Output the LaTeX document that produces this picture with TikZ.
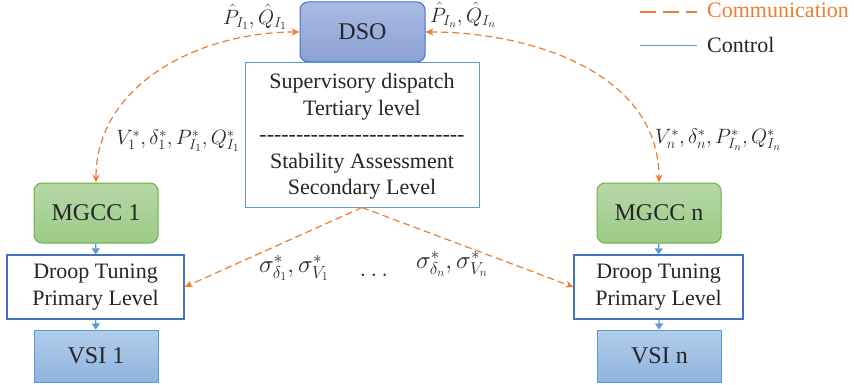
\documentclass[tikz,border=0pt]{standalone}
\usepackage{fontspec}
\setmainfont{LiberationSerif}[Extension=.ttf, UprightFont=*-Regular, BoldFont=*-Bold, ItalicFont=*-Italic, BoldItalicFont=*-BoldItalic]
\usetikzlibrary{arrows.meta}
\definecolor{orng}{HTML}{ED7D31}
\definecolor{lblue}{HTML}{5B9BD5}
\definecolor{dblue}{HTML}{4472C4}
\definecolor{ggreen}{HTML}{70AD47}
\definecolor{txt}{HTML}{262626}
\newcommand\hyph{-\kern0pt}
\begin{document}
\begin{tikzpicture}[x=1pt,y=-1pt,
  every node/.style={text=txt, inner sep=0pt},
  bigfont/.style={font=\fontsize{24}{28}\selectfont},
  midfont/.style={font=\fontsize{22}{26.5}\selectfont},
  mathlbl/.style={font=\fontsize{22}{26}\selectfont},
  dsobox/.style={bigfont, draw=dblue, line width=1pt, rounded corners=8pt,
    top color={rgb,255:red,170;green,186;blue,227}, bottom color={rgb,255:red,140;green,162;blue,213},
    minimum width=125pt, minimum height=60pt},
  mgccbox/.style={bigfont, draw=ggreen, line width=1pt, rounded corners=8pt,
    top color={rgb,255:red,182;green,216;blue,168}, bottom color={rgb,255:red,156;green,203;blue,134},
    minimum width=124pt, minimum height=60pt},
  vsibox/.style={bigfont, draw=lblue, line width=1pt,
    top color={rgb,255:red,178;green,205;blue,235}, bottom color={rgb,255:red,143;green,180;blue,223},
    minimum width=124pt, minimum height=52pt},
  droopbox/.style={midfont, draw=dblue, line width=1.2pt, fill=white, align=center,
    minimum height=64pt},
  centralbox/.style={midfont, draw=lblue, line width=1pt, fill=white, align=center,
    minimum width=234pt, minimum height=144pt},
  comm/.style={draw=orng, line width=1.2pt, dash pattern=on 7pt off 4pt},
  ctrl/.style={draw=lblue, line width=1.2pt, arrows={-Triangle[length=6pt,width=8pt]}}
]
\useasboundingbox (0,0) rectangle (854,385);

% nodes
\node[dsobox] (dso) at (362.5,32) {DSO};
\node[centralbox] (central) at (362,135) {\rule{0pt}{18pt}Supervisory dispatch\\Tertiary level\\\hyph\hyph\hyph\hyph\hyph\hyph\hyph\hyph\hyph\hyph\hyph\hyph\hyph\hyph\hyph\hyph\hyph\hyph\hyph\hyph\hyph\hyph\hyph\hyph\hyph\hyph\hyph\hyph\\Stability Assessment\\Secondary Level};
\node[mgccbox] (mgcc1) at (96,213) {MGCC 1};
\node[droopbox, minimum width=177pt] (droop1) at (95.5,287) {Droop Tuning\\Primary Level};
\node[vsibox] (vsi1) at (96,356) {VSI 1};
\node[mgccbox] (mgccn) at (659,213) {MGCC n};
\node[droopbox, minimum width=169pt] (droopn) at (658.5,287) {Droop Tuning\\Primary Level};
\node[vsibox] (vsin) at (659.5,356) {VSI n};

% control arrows
\draw[ctrl] (mgcc1) -- (droop1);
\draw[ctrl] (droop1) -- (vsi1);
\draw[ctrl] (mgccn) -- (droopn);
\draw[ctrl] (droopn) -- (vsin);

% communication arrows
\draw[comm, arrows={Stealth[length=8pt,width=7pt]-Stealth[length=8pt,width=7pt]}] (dso.west) to[out=180,in=90] (mgcc1.north);
\draw[comm, arrows={Stealth[length=8pt,width=7pt]-Stealth[length=8pt,width=7pt]}] (dso.east) to[out=0,in=90] (mgccn.north);
\draw[comm, arrows={-Stealth[length=8pt,width=7pt]}] (central.south) -- (droop1.east);
\draw[comm, arrows={-Stealth[length=8pt,width=7pt]}] (central.south) -- (droopn.west);

% labels
\node[mathlbl] (l1) at (255,17) {$\hat{P}_{I_1},\hat{Q}_{I_1}$};
\node[mathlbl] (l2) at (178,141) {$V_1^*,\delta_1^*,P_{I_1}^*,Q_{I_1}^*$};
\node[mathlbl] (l3) at (463,15) {$\hat{P}_{I_n},\hat{Q}_{I_n}$};
\node[mathlbl] (l4) at (718,140) {$V_n^*,\delta_n^*,P_{I_n}^*,Q_{I_n}^*$};
\node[mathlbl, font=\fontsize{24}{28}\selectfont] (l5) at (294,268) {$\sigma_{\delta_1}^*,\sigma_{V_1}^*$};
\node[mathlbl, font=\fontsize{24}{28}\selectfont] (l6) at (374,275) {$\dots$};
\node[mathlbl, font=\fontsize{24}{28}\selectfont] (l7) at (452,264) {$\sigma_{\delta_n}^*,\sigma_{V_n}^*$};

% legend
\coordinate (lc1) at (640,12);
\coordinate (lc2) at (697,12);
\draw[draw=orng, line width=1.6pt, dash pattern=on 16pt off 7pt] (lc1) -- (lc2);
\node[midfont, anchor=west, text=orng] (lcomm) at (707,10) {Communication};
\coordinate (lc3) at (640,46);
\coordinate (lc4) at (697,46);
\draw[draw=lblue, line width=1pt] (lc3) -- (lc4);
\node[midfont, anchor=west] (lctrl) at (707,45) {Control};
\end{tikzpicture}
\end{document}
